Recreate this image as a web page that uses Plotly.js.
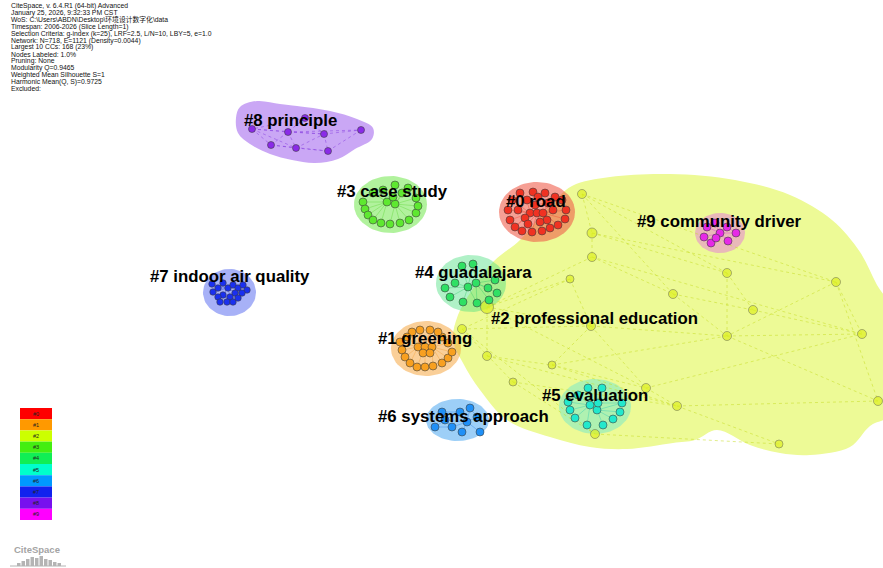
<!DOCTYPE html>
<html><head><meta charset="utf-8">
<script src="https://cdn.plot.ly/plotly-3.0.1.min.js"></script>
<style>html,body{margin:0;padding:0;background:#fff}#chart{width:883px;height:568px}</style>
</head><body><div id="chart"></div>
<script>
// ---------- DATA ----------
const headerLines = [
  "CiteSpace, v. 6.4.R1 (64-bit) Advanced",
  "January 25, 2026, 9:32:33 PM CST",
  "WoS: C:\\Users\\ABDN\\Desktop\\环境设计数字化\\data",
  "Timespan: 2006-2026 (Slice Length=1)",
  "Selection Criteria: g-index (k=25), LRF=2.5, L/N=10, LBY=5, e=1.0",
  "Network: N=718, E=1121 (Density=0.0044)",
  "Largest 10 CCs: 168 (23%)",
  "Nodes Labeled: 1.0%",
  "Pruning: None",
  "Modularity Q=0.9465",
  "Weighted Mean Silhouette S=1",
  "Harmonic Mean(Q, S)=0.9725",
  "Excluded:"
];
const clusterIds = ["#0","#1","#2","#3","#4","#5","#6","#7","#8","#9"];
const clusterNames = ["road","greening","professional education","case study","guadalajara","evaluation","systems approach","indoor air quality","principle","community driver"];
const legendColors = ["#ff0000","#ff9900","#ccff00","#44ee11","#11ee55","#00ffcc","#0099ff","#1122ee","#7711ee","#ff00ff"];
const nodeColors = ["#f03222","#f8a020","#def020","#5ee830","#30e064","#22e8cc","#2090f6","#1a30f0","#8a2ae8","#e62ae6"];
const hullColors = ["rgba(240,90,70,0.58)","rgba(245,160,50,0.5)","rgb(237,250,150)","rgba(100,230,60,0.5)","rgba(80,225,130,0.45)","rgba(100,230,210,0.45)","rgba(60,160,240,0.5)","rgba(80,100,240,0.5)","rgba(150,80,235,0.5)","rgba(230,120,220,0.5)"];
const edgeColors = ["rgba(235,60,40,0.6)","rgba(240,150,40,0.6)","rgba(200,222,40,0.6)","rgba(80,210,40,0.6)","rgba(40,200,100,0.6)","rgba(30,200,180,0.6)","rgba(30,120,230,0.6)","rgba(30,50,220,0.6)","rgba(120,40,220,0.7)","rgba(220,40,220,0.6)"];
const labelX = [536,425,594,392,473,595,463,230,290,719];
const labelY = [201,338,318,191,272,395,416,276,120,221];

// cluster #0 road
const c0X = [508,510,515,522,532,542,550,558,565,566,562,520,533,545,555,512,527,530,537,543,535,525,547,553,518,540,528,548,538];
const c0Y = [210,220,227,231,232,231,228,225,219,210,200,193,192,193,197,200,200,213,213,213,205,218,220,210,210,222,224,203,197];
const c0E = [[17,0],[17,1],[17,2],[17,3],[17,15],[17,16],[17,24],[17,21],[18,4],[18,5],[18,25],[18,26],[18,12],[18,28],[18,22],[19,6],[19,7],[19,8],[19,9],[19,23],[19,27],[19,14],[20,11],[20,13],[20,10],[20,16],[21,2],[22,6],[18,17],[18,19],[18,20]];
// cluster #1 greening
const c1X = [400,402,405,410,417,425,433,442,448,452,448,442,412,420,430,438,418,425,432,423,430,407];
const c1Y = [342,350,357,363,367,367,366,363,358,352,343,337,332,330,330,332,347,347,347,353,353,337];
const c1E = [[16,0],[16,1],[16,2],[16,3],[16,21],[16,12],[16,13],[16,19],[17,4],[17,5],[17,14],[17,13],[17,19],[17,20],[18,6],[18,7],[18,8],[18,9],[18,10],[18,11],[18,15],[18,20],[16,17],[17,18]];
// cluster #2 professional education
const c2X = [582,592,592,570,673,727,836,753,487,591,727,862,462,487,552,513,646,677,878,595,779];
const c2Y = [194,233,257,279,294,273,282,310,307,326,336,334,329,356,365,382,388,406,401,434,444];
const c2S = [9,10,9,8,9,9,9,9,13,9,9,9,9,9,8,8,9,9,9,9,8];
const c2E = [[0,1],[1,2],[0,6],[0,5],[1,5],[1,6],[2,4],[2,11],[3,9],[3,12],[4,10],[4,7],[5,10],[6,11],[6,18],[7,11],[8,9],[8,13],[8,16],[9,14],[9,16],[9,10],[10,11],[10,18],[12,15],[13,14],[14,16],[14,17],[15,19],[16,17],[17,18],[17,20],[19,20],[16,11],[12,9],[3,8],[2,8],[14,10],[15,17],[6,10],[0,4],[5,7],[12,19],[13,17]];
const hull2X = [453,458,472,493,520,548,572,610,670,735,790,832,860,877,895,895,870,850,810,780,750,717,695,673,627,590,550,507,480,463];
const hull2Y = [340,315,290,262,240,208,186,177,174,180,195,220,252,285,315,412,426,447,455,453,445,430,440,443,449,447,437,420,390,363];
// cluster #3 case study
const c3X = [363,365,368,373,381,390,400,409,416,418,416,387,395,393,402,383,395,373,408];
const c3Y = [202,209,215,220,223,224,223,220,213,206,198,202,204,197,193,190,185,193,188];
const c3E = [[11,0],[11,1],[11,2],[11,3],[11,4],[11,15],[11,17],[11,13],[12,5],[12,6],[12,7],[12,8],[12,9],[12,10],[12,14],[12,16],[12,13],[12,18],[11,12]];
// cluster #4 guadalajara
const c4X = [462,473,445,450,463,468,476,488,497,489,477,495,455];
const c4Y = [266,264,288,297,302,287,283,288,293,300,303,280,283];
const c4E = [[5,0],[5,1],[5,2],[5,3],[5,4],[5,12],[5,10],[6,7],[6,8],[6,9],[6,11],[6,10],[6,1],[5,6]];
// cluster #5 evaluation
const c5X = [568,570,575,587,603,613,620,622,590,597,598,588,602,578];
const c5Y = [402,410,418,425,425,419,412,403,405,410,403,388,388,395];
const c5E = [[8,0],[8,1],[8,2],[8,3],[8,13],[8,11],[9,4],[9,5],[9,6],[9,7],[9,10],[10,12],[10,7],[8,9],[8,10]];
// cluster #6 systems approach
const c6X = [435,442,452,460,470,477,480,462,445,467];
const c6Y = [427,412,427,412,408,417,432,432,420,422];
const c6E = [[8,0],[8,1],[8,2],[8,3],[9,3],[9,4],[9,5],[9,6],[9,7],[9,2],[8,9],[1,3],[0,2],[4,5]];
// cluster #7 indoor air quality
const c7X = [212,213,218,223,228,233,238,243,247,242,235,230,223,218,227,233,238,220];
const c7Y = [284,292,288,283,288,285,288,285,290,293,293,297,295,297,302,302,298,302];
const c7E = [[4,0],[4,1],[4,2],[4,3],[4,5],[4,10],[4,11],[4,12],[10,6],[10,7],[10,8],[10,9],[10,16],[10,15],[11,14],[11,13],[11,17],[12,13],[5,6],[3,2],[9,8],[0,2],[7,8]];
// cluster #8 principle
const c8X = [252,271,288,296,324,328,361,305];
const c8Y = [129,145,132,148,134,151,130,118];
const c8E = [[0,2],[0,4],[0,1],[1,3],[1,2],[2,4],[2,3],[3,5],[4,5],[4,6],[5,6],[2,6],[0,3],[3,4],[7,2],[7,4],[7,0],[1,5]];
const hull8X = [236,240,257,280,297,330,357,373,372,355,338,315,292,270,250,238];
const hull8Y = [118,107,101,104,106,111,119,128,139,149,159,163,160,154,144,133];
// cluster #9 community driver
const c9X = [704,707,711,715,720,727,728,736,716];
const c9Y = [237,227,243,223,233,227,241,233,238];
const c9E = [[4,0],[4,1],[4,2],[4,3],[4,5],[4,6],[4,7],[4,8],[1,3],[5,7],[0,2],[8,2]];

// ---------- BUILD ----------
const clusters = [
  {x:c0X,y:c0Y,e:c0E},{x:c1X,y:c1Y,e:c1E},{x:c2X,y:c2Y,e:c2E,s:c2S,hx:hull2X,hy:hull2Y},
  {x:c3X,y:c3Y,e:c3E},{x:c4X,y:c4Y,e:c4E},{x:c5X,y:c5Y,e:c5E},{x:c6X,y:c6Y,e:c6E},
  {x:c7X,y:c7Y,e:c7E},{x:c8X,y:c8Y,e:c8E,hx:hull8X,hy:hull8Y},{x:c9X,y:c9Y,e:c9E}
];
const hullPad = [[9,10],[9,9],[0,0],[9,9],[9,9],[9,9],[9,9],[9,14],[0,0],[9,10]];
const nodeSize = [8,8,9,8,8,8,8,6.5,7,8];
function ellipseFor(xs, ys, padX, padY){
  const mnx=Math.min(...xs), mxx=Math.max(...xs), mny=Math.min(...ys), mxy=Math.max(...ys);
  const cx=(mnx+mxx)/2, cy=(mny+mxy)/2, rx=(mxx-mnx)/2+padX, ry=(mxy-mny)/2+padY;
  const ex=[], ey=[];
  for(let k=0;k<=72;k++){const t=k/72*2*Math.PI; ex.push(cx+rx*Math.cos(t)); ey.push(cy+ry*Math.sin(t));}
  return [ex,ey];
}
const traces = [];
const order = [2,8,3,7,1,6,4,0,5,9];
order.forEach(i=>{
  const c = clusters[i];
  let hx, hy, shape='linear';
  if(c.hx){hx=c.hx.concat([c.hx[0]]); hy=c.hy.concat([c.hy[0]]); shape='spline';}
  else {[hx,hy]=ellipseFor(c.x,c.y,hullPad[i][0],hullPad[i][1]);}
  traces.push({type:'scatter',mode:'lines',x:hx,y:hy,fill:'toself',fillcolor:hullColors[i],
    line:{width:0,color:'rgba(0,0,0,0)',shape:shape,smoothing:1},hoverinfo:'skip'});
});
order.forEach(i=>{
  const c = clusters[i];
  const ex=[], ey=[];
  c.e.forEach(([a,b])=>{ex.push(c.x[a],c.x[b],null); ey.push(c.y[a],c.y[b],null);});
  traces.push({type:'scatter',mode:'lines',x:ex,y:ey,line:{width:i===2?0.9:0.6,color:edgeColors[i],dash:(i===8||i===2)?'dot':'solid'},hoverinfo:'skip'});
});
order.forEach(i=>{
  const c = clusters[i];
  traces.push({type:'scatter',mode:'markers',x:c.x,y:c.y,
    marker:{size:c.s?c.s:nodeSize[i],color:nodeColors[i],line:{width:0.7,color:'rgba(60,60,60,0.8)'}},hoverinfo:'skip'});
});

const annotations = [];
headerLines.forEach((t,k)=>{
  annotations.push({x:9,y:6+k*6.9,xref:'x',yref:'y',text:t,showarrow:false,xanchor:'left',yanchor:'middle',
    font:{family:'Liberation Sans, Arial, Noto Sans CJK SC',size:6.8,color:'#111'}});
});
clusterIds.forEach((id,i)=>{
  annotations.push({x:labelX[i],y:labelY[i],xref:'x',yref:'y',text:id+' '+clusterNames[i],showarrow:false,
    xanchor:'center',yanchor:'middle',font:{family:'Liberation Sans, Arial',size:16.8,color:'#000',weight:'bold'}});
});
const shapes = [];
const legX0=20, legX1=52, legY0=408, legH=11.2;
legendColors.forEach((col,i)=>{
  shapes.push({type:'rect',xref:'x',yref:'y',x0:legX0,x1:legX1,y0:legY0+i*legH,y1:legY0+(i+1)*legH,fillcolor:col,line:{width:0}});
  annotations.push({x:(legX0+legX1)/2,y:legY0+(i+0.5)*legH,xref:'x',yref:'y',text:clusterIds[i],showarrow:false,
    font:{family:'Liberation Sans, Arial',size:5.5,color:'#222'}});
});
annotations.push({x:37,y:549,xref:'x',yref:'y',text:'CiteSpace',showarrow:false,
  font:{family:'Liberation Sans, Arial',size:9.5,color:'#a4a4a4',weight:'bold'}});
const logoBarH = [3,5,7,9,8,10,7,6,4,3];
logoBarH.forEach((h,k)=>{
  shapes.push({type:'rect',xref:'x',yref:'y',x0:17+k*4.5,x1:20.5+k*4.5,y0:566-h,y1:566,fillcolor:'#b4b4b4',line:{width:0}});
});
shapes.push({type:'line',xref:'x',yref:'y',x0:10,x1:66,y0:566,y1:566,line:{color:'#b4b4b4',width:1}});

const layout = {width:883,height:568,margin:{l:0,r:0,t:0,b:0},
  xaxis:{range:[0,883],visible:false,fixedrange:true},
  yaxis:{range:[568,0],visible:false,fixedrange:true},
  showlegend:false,paper_bgcolor:'#fff',plot_bgcolor:'#fff',
  annotations:annotations,shapes:shapes};
Plotly.newPlot('chart',traces,layout,{staticPlot:true,displayModeBar:false});
</script></body></html>
